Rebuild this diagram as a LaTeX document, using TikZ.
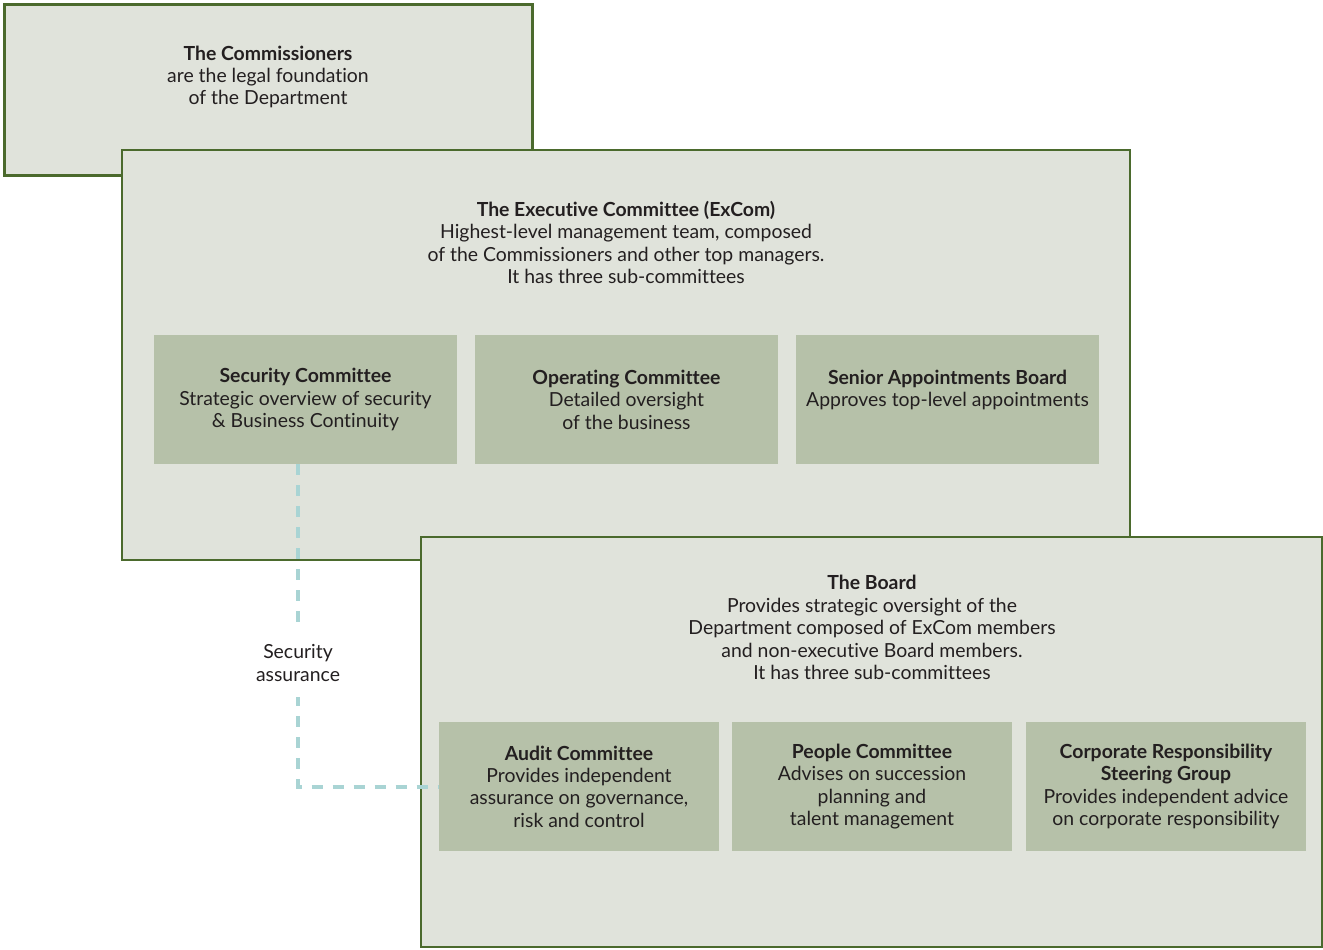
\documentclass[tikz,border=0pt]{standalone}
\usepackage{fontspec}
\setmainfont[Ligatures=NoCommon]{Lato}
\usetikzlibrary{positioning}
\definecolor{paleGrey}{HTML}{E0E3DB}
\definecolor{subGreen}{HTML}{B6C1A9}
\definecolor{edgeGreen}{HTML}{4B6A2D}
\definecolor{inkGrey}{HTML}{231F20}
\definecolor{assureTeal}{HTML}{A9D4D4}
\tikzset{
  panel/.style={rectangle, draw=edgeGreen, line width=1.25pt, fill=paleGrey,
    anchor=north west, inner sep=0pt, outer sep=0pt},
  subbox/.style={rectangle, fill=subGreen, anchor=north west, inner sep=0pt,
    outer sep=0pt, align=center, text=inkGrey, minimum height=64.5pt},
  heading/.style={align=center, text=inkGrey},
  assure/.style={draw=assureTeal, line width=2pt, dash pattern=on 5.5pt off 5pt}
}

\begin{document}
\begin{tikzpicture}[x=0.5pt, y=-0.5pt, font=\fontsize{9.7}{11.2}\selectfont]
\useasboundingbox (0,0) rectangle (1323,949);
% --- Commissioners ---
\node[panel, minimum width=264pt, minimum height=85.5pt] (comm) at (4.5,4.5) {};
\node[heading] (commtxt) at (268,77)
  {\textbf{The Commissioners}\\are the legal foundation\\of the Department};
% --- ExCom ---
\node[panel, minimum width=504pt, minimum height=205pt] (excom) at (122,150) {};
\node[heading] (excomtxt) at (626,242.5)
  {\textbf{The Executive Committee (ExCom)}\\Highest-level management team, composed\\
   of the Commissioners and other top managers.\\It has three sub-committees};
\node[subbox, minimum width=151.5pt] (sec) at (154,335)
  {\textbf{Security Committee}\\Strategic overview of security\\\& Business Continuity};
\node[subbox, minimum width=151.5pt] (opc) at (475,335)
  {\textbf{Operating Committee}\\Detailed oversight\\of the business};
\node[subbox, minimum width=151.5pt] (sab) at (796,335)
  {\textbf{Senior Appointments Board}\\Approves top-level appointments\\\phantom{x}};
% --- Board ---
\node[panel, minimum width=450.5pt, minimum height=205pt] (board) at (421,537) {};
\node[heading] (boardtxt) at (872,627.5)
  {\textbf{The Board}\\Provides strategic oversight of the\\Department composed of ExCom members\\
   and non-executive Board members.\\It has three sub-committees};
\node[subbox, minimum width=140pt] (audit) at (439,722)
  {\textbf{Audit Committee}\\Provides independent\\assurance on governance,\\risk and control};
\node[subbox, minimum width=140pt] (people) at (732,722)
  {\textbf{People Committee}\\Advises on succession\\planning and\\talent management};
\node[subbox, minimum width=140pt] (crsg) at (1026,722)
  {\textbf{Corporate Responsibility}\\\textbf{Steering Group}\\Provides independent advice\\on corporate responsibility};
% --- security assurance link ---
\coordinate (tap) at (298,464);
\draw[assure] (tap) |- (audit.west);
\node[heading, fill=white, inner xsep=3pt, inner ysep=8pt] (assurelab) at (298,663)
  {Security\\assurance};
\end{tikzpicture}
\end{document}
